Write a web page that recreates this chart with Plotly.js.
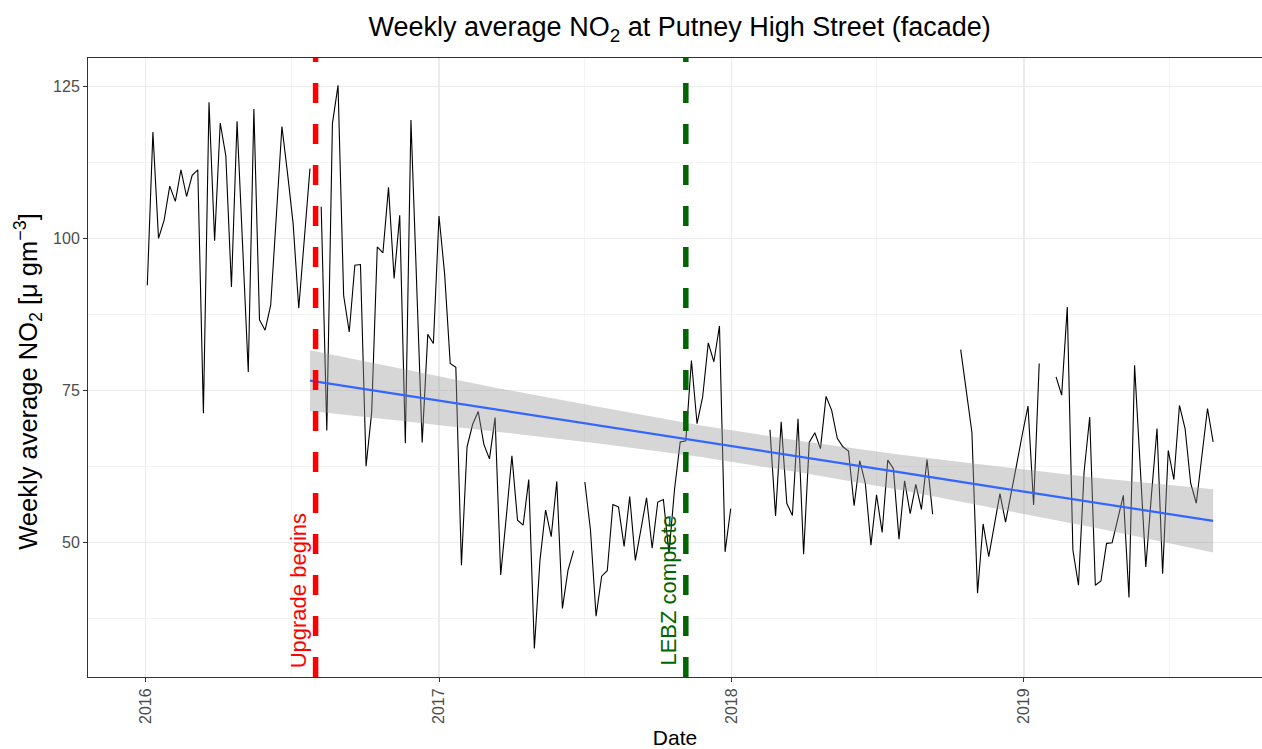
<!DOCTYPE html>
<html>
<head>
<meta charset="utf-8">
<script src="https://cdn.plot.ly/plotly-3.0.1.min.js"></script>
<style>html,body{margin:0;padding:0;background:#fff;}#chart{width:1262px;height:749px;}</style>
</head>
<body>
<div id="chart"></div>
<script>
// Weekly series: first week and step (weekly averages)
const firstWeek = '2016-01-03';
const weekMs = 7 * 24 * 3600 * 1000;

// Weekly average NO2 (µg m-3), null = missing week
const weeklyNO2 = [
  92.3, 117.5, 100.0, 103.0, 108.6, 106.1, 111.3, 106.9, 110.4, 111.3,
  71.2, 122.4, 99.6, 119.0, 113.6, 92.0, 119.3, 98.5, 78.0, 121.3,
  86.6, 84.9, 89.0, 103.7, 118.4, 110.7, 102.4, 88.5, 100.0, 111.5,
  null, 105.2, 68.4, 118.9, 125.2, 90.6, 84.6, 95.6, 95.7, 62.5,
  71.4, 98.6, 97.6, 108.4, 93.4, 103.8, 66.3, 119.5, 94.0, 66.4,
  84.2, 82.7, 103.7, 94.2, 79.4, 78.8, 46.2, 65.7, 69.4, 71.5,
  66.1, 63.7, 70.5, 44.6, 54.2, 64.2, 53.6, 52.8, 60.3, 32.5,
  47.0, 55.3, 50.9, 60.0, 39.1, 45.4, 48.6, null, 59.9, 52.0,
  37.8, 44.4, 45.3, 56.2, 55.8, 49.3, 57.5, 47.0, 52.1, 57.3,
  49.0, 56.6, 57.0, 48.2, 58.8, 66.5, 66.7, 79.9, 69.5, 73.9,
  82.8, 79.7, 85.6, 48.4, 55.5, null, null, null, null, null,
  null, 68.5, 54.3, 69.8, 56.4, 54.4, 70.3, 48.0, 66.4, 68.0,
  65.4, 74.0, 71.7, 67.1, 65.7, 65.0, 56.0, 63.4, 59.7, 49.5,
  57.8, 51.6, 63.5, 62.1, 50.5, 60.1, 54.7, 59.5, 55.4, 63.6,
  54.6, null, null, null, null, 81.7, 75.0, 68.1, 41.6, 53.0,
  47.6, 52.8, 58.0, 53.3, 57.9, 62.9, 67.8, 72.4, 56.1, 79.4,
  null, null, 77.2, 74.2, 88.7, 48.7, 42.9, 61.6, 70.6, 42.9,
  43.6, 49.8, 49.9, 53.6, 57.7, 40.9, 79.1, 62.5, 45.9, 57.7,
  68.7, 44.8, 65.1, 60.3, 72.5, 68.7, 59.7, 56.4, 64.0, 72.0,
  66.5
];

// Linear trend with confidence band
const fitDates = ['2016-07-24','2016-11-14','2017-03-19','2017-07-22','2017-11-24','2018-03-28','2018-07-31','2018-12-03','2019-04-06','2019-08-25'];
const fitMid   = [76.6, 74.3, 71.7, 69.2, 66.6, 64.05, 61.5, 58.9, 56.35, 53.5];
const fitLow   = [71.6, 70.0, 68.15, 66.2, 64.0, 61.45, 58.6, 55.4, 52.2, 48.3];
const fitHigh  = [81.6, 78.6, 75.25, 72.2, 69.2, 66.65, 64.4, 62.4, 60.5, 58.7];

// Events
const eventDates  = ['2016-07-31', '2017-11-05'];
const eventLabels = ['Upgrade begins', 'LEBZ complete'];
const eventColors = ['#FF0000', '#006400'];
const eventLabelY = 42;

const yTicks = [50, 75, 100, 125];
const yTitle = 'Weekly average NO<sub>2</sub> [μ gm<sup>−3</sup>]';

const traces = [
  {
    type: 'scatter', mode: 'lines',
    x0: firstWeek, dx: weekMs, y: weeklyNO2,
    connectgaps: false,
    line: {color: '#000000', width: 1.1},
    hoverinfo: 'skip', showlegend: false
  },
  {
    type: 'scatter', mode: 'lines',
    x: fitDates.concat(fitDates.slice().reverse()),
    y: fitHigh.concat(fitLow.slice().reverse()),
    fill: 'toself', fillcolor: 'rgba(153,153,153,0.4)',
    line: {width: 0, color: 'rgba(0,0,0,0)'},
    hoverinfo: 'skip', showlegend: false
  },
  {
    type: 'scatter', mode: 'lines',
    x: fitDates, y: fitMid,
    line: {color: '#3366FF', width: 2.2},
    hoverinfo: 'skip', showlegend: false
  }
];

const shapes = eventDates.map((d, i) => ({
  type: 'line', xref: 'x', yref: 'paper',
  x0: d, x1: d, y0: 0, y1: 1,
  line: {color: eventColors[i], width: 5.5, dash: '20px,21px'},
  layer: 'above'
}));

const annotations = eventDates.map((d, i) => ({
  x: d, y: eventLabelY, xref: 'x', yref: 'y',
  text: eventLabels[i], textangle: -90, showarrow: false,
  xanchor: 'center', yanchor: 'middle', xshift: -17,
  font: {size: 22, color: eventColors[i]}
}));

// y-axis title, drawn as a rotated annotation to match placement
annotations.push({
  x: 0, y: 0.477, xref: 'paper', yref: 'paper',
  text: yTitle, textangle: -90, showarrow: false,
  xanchor: 'center', yanchor: 'middle', xshift: -60,
  font: {size: 25.5, color: '#000000'}
});

const layout = {
  width: 1262, height: 749,
  margin: {l: 88, r: 0, t: 58, b: 72},
  paper_bgcolor: '#ffffff', plot_bgcolor: '#ffffff',
  font: {family: 'Liberation Sans, Arial, sans-serif', color: '#000000'},
  title: {
    text: 'Weekly average NO<sub>2</sub> at Putney High Street (facade)',
    font: {size: 27, color: '#000000'},
    x: 0.504, xref: 'paper', xanchor: 'center',
    y: 0.964, yref: 'container', yanchor: 'middle'
  },
  xaxis: {
    type: 'date', range: ['2015-10-21', '2019-10-25'],
    tick0: '2016-01-01', dtick: 'M12', tickformat: '%Y',
    tickangle: -90, tickfont: {size: 16, color: '#4d4d4d'},
    ticks: 'outside', ticklen: 4, tickcolor: '#333333', tickwidth: 1,
    showline: true, linecolor: '#333333', linewidth: 1, mirror: true,
    showgrid: true, gridcolor: '#ebebeb', gridwidth: 1.1,
    minor: {tick0: '2016-01-01', dtick: 'M6', showgrid: true, gridcolor: '#ebebeb', gridwidth: 0.55},
    zeroline: false, automargin: false,
    title: {text: 'Date', font: {size: 21, color: '#000000'}, standoff: 9}
  },
  yaxis: {
    range: [27.8, 129.7],
    tickmode: 'array', tickvals: yTicks,
    tickfont: {size: 16, color: '#4d4d4d'},
    ticks: 'outside', ticklen: 4, tickcolor: '#333333', tickwidth: 1,
    showline: true, linecolor: '#333333', linewidth: 1, mirror: false,
    showgrid: true, gridcolor: '#ebebeb', gridwidth: 1.1,
    minor: {tick0: 0, dtick: 12.5, showgrid: true, gridcolor: '#ebebeb', gridwidth: 0.55},
    zeroline: false, automargin: false
  },
  shapes: shapes,
  annotations: annotations,
  showlegend: false
};

Plotly.newPlot('chart', traces, layout, {staticPlot: true, displayModeBar: false});
</script>
</body>
</html>
